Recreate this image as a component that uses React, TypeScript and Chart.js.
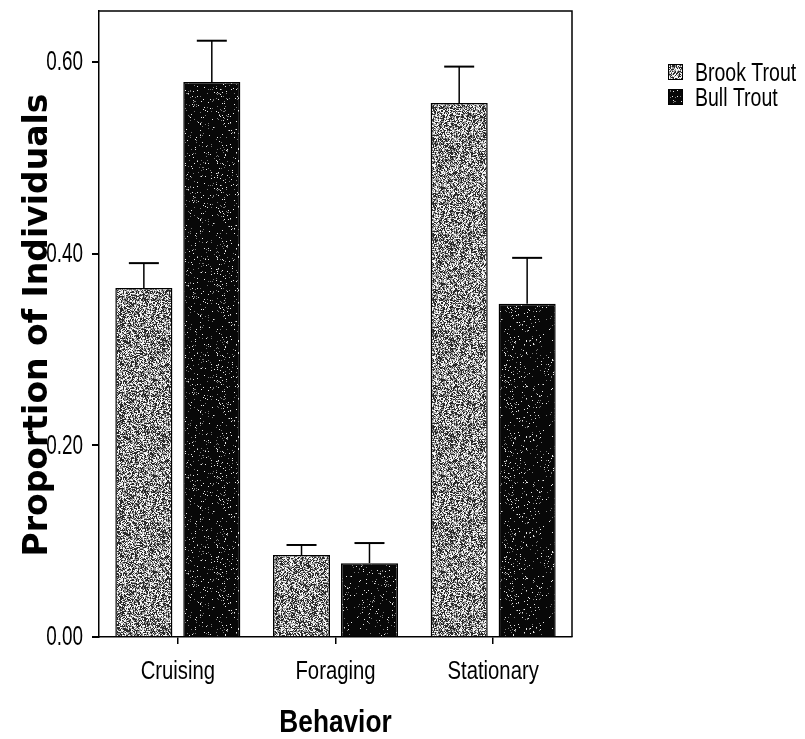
import React, { useEffect, useRef } from "react";
import { Chart, registerables } from "chart.js";

Chart.register(...registerables);

const categories = ["Cruising", "Foraging", "Stationary"];
const seriesNames = ["Brook Trout", "Bull Trout"];
const brookValues = [0.364, 0.0855, 0.557];
const brookUpper = [0.39, 0.096, 0.595];
const bullValues = [0.579, 0.077, 0.3475];
const bullUpper = [0.622, 0.098, 0.3955];
const yTicks = [0, 0.2, 0.4, 0.6];

const SANS = '"Liberation Sans", Arial, sans-serif';
const WIDE = '"DejaVu Sans", Verdana, sans-serif';

function hash(x: number, y: number, s: number) {
  let h = Math.imul(x, 374761393) + Math.imul(y, 668265263) + Math.imul(s, 2147483647);
  h = Math.imul(h ^ (h >>> 13), 1274126177);
  h = h ^ (h >>> 16);
  return (h >>> 0) / 4294967295;
}

function makePattern(kind: "brook" | "bull") {
  const size = 96;
  const c = document.createElement("canvas");
  c.width = size;
  c.height = size;
  const ctx = c.getContext("2d")!;
  const img = ctx.createImageData(size, size);
  for (let y = 0; y < size; y++) {
    for (let x = 0; x < size; x++) {
      const r = hash(x, y, kind === "brook" ? 7 : 11);
      let v: number;
      if (kind === "brook") {
        v = r < 0.38 ? 40 : r < 0.68 ? 150 : 245;
      } else {
        v = r < 0.94 ? 8 : r < 0.97 ? 120 : 235;
      }
      const i = (y * size + x) * 4;
      img.data[i] = v;
      img.data[i + 1] = v;
      img.data[i + 2] = v;
      img.data[i + 3] = 255;
    }
  }
  ctx.putImageData(img, 0, 0);
  return ctx.createPattern(c, "repeat")!;
}

function narrowText(
  ctx: CanvasRenderingContext2D,
  text: string,
  x: number,
  y: number,
  font: string,
  sx: number,
  align: CanvasTextAlign,
  baseline: CanvasTextBaseline
) {
  ctx.save();
  ctx.translate(x, y);
  ctx.scale(sx, 1);
  ctx.font = font;
  ctx.textAlign = align;
  ctx.textBaseline = baseline;
  ctx.fillStyle = "#000";
  ctx.fillText(text, 0, 0);
  ctx.restore();
}

export default function App() {
  const ref = useRef<HTMLCanvasElement | null>(null);
  useEffect(() => {
    document.body.style.margin = "0";
    const canvas = ref.current!;
    const brookPat = makePattern("brook");
    const bullPat = makePattern("bull");
    const uppers = [brookUpper, bullUpper];
    const pats = [brookPat, bullPat];

    const extras = {
      id: "extras",
      afterDatasetsDraw(chart: any) {
        const ctx = chart.ctx;
        const y = chart.scales.y;
        ctx.save();
        ctx.strokeStyle = "#000";
        chart.data.datasets.forEach((ds: any, di: number) => {
          const meta = chart.getDatasetMeta(di);
          meta.data.forEach((bar: any, i: number) => {
            const top = y.getPixelForValue(uppers[di][i]);
            const base = y.getPixelForValue(ds.data[i]);
            ctx.lineWidth = 1.5;
            ctx.beginPath();
            ctx.moveTo(bar.x, base);
            ctx.lineTo(bar.x, top);
            ctx.stroke();
            ctx.lineWidth = 2;
            ctx.beginPath();
            ctx.moveTo(bar.x - 15, top);
            ctx.lineTo(bar.x + 15, top);
            ctx.stroke();
          });
        });
        ctx.restore();
      },
      afterDraw(chart: any) {
        const ctx = chart.ctx;
        const a = chart.chartArea;
        const xs = chart.scales.x;
        const ys = chart.scales.y;
        ctx.save();
        ctx.strokeStyle = "#000";
        ctx.lineWidth = 1.5;
        ctx.beginPath();
        ctx.moveTo(a.left, a.top);
        ctx.lineTo(a.right, a.top);
        ctx.lineTo(a.right, a.bottom);
        ctx.stroke();

        // tick labels
        yTicks.forEach((v) => {
          narrowText(ctx, v.toFixed(2), 83, ys.getPixelForValue(v) + 1, `27px ${SANS}`, 0.7, "right", "middle");
        });
        categories.forEach((c, i) => {
          narrowText(ctx, c, xs.getPixelForValue(i), 679, `26px ${SANS}`, 0.78, "center", "alphabetic");
        });

        // axis titles
        narrowText(ctx, "Behavior", (a.left + a.right) / 2, 732, `bold 32px ${SANS}`, 0.82, "center", "alphabetic");
        ctx.save();
        ctx.translate(38, 325);
        ctx.rotate(-Math.PI / 2);
        ctx.font = `bold 33px ${WIDE}`;
        ctx.textAlign = "center";
        ctx.textBaseline = "middle";
        ctx.fillStyle = "#000";
        ctx.fillText("Proportion of Individuals", 0, 0);
        ctx.restore();

        // legend
        seriesNames.forEach((name, i) => {
          const cy = 72 + i * 25;
          ctx.fillStyle = pats[i];
          ctx.fillRect(668, cy - 8, 15, 16);
          ctx.lineWidth = 1;
          ctx.strokeStyle = "#000";
          ctx.strokeRect(668.5, cy - 7.5, 14, 15);
          narrowText(ctx, name, 695, cy + 9, `26px ${SANS}`, 0.75, "left", "alphabetic");
        });
        ctx.restore();
      },
    };

    const chart = new Chart(canvas, {
      type: "bar",
      data: {
        labels: categories,
        datasets: [
          {
            label: seriesNames[0],
            data: brookValues,
            backgroundColor: brookPat as any,
            borderColor: "#000",
            borderWidth: 1.5,
          },
          {
            label: seriesNames[1],
            data: bullValues,
            backgroundColor: bullPat as any,
            borderColor: "#000",
            borderWidth: 1.5,
          },
        ],
      },
      options: {
        animation: false,
        responsive: false,
        maintainAspectRatio: false,
        layout: { padding: { left: 0, right: 233, top: 11, bottom: 0 } },
        datasets: { bar: { categoryPercentage: 0.862, barPercentage: 0.84 } },
        plugins: { legend: { display: false }, tooltip: { enabled: false } },
        scales: {
          x: {
            grid: {
              display: true,
              drawOnChartArea: false,
              drawTicks: true,
              tickLength: 7,
              offset: false,
              color: "#000",
              lineWidth: 1.5,
            },
            border: { color: "#000", width: 1.5 },
            ticks: { display: false },
            afterFit(s: any) {
              s.height = 102;
              s.paddingLeft = 0;
              s.paddingRight = 0;
            },
          },
          y: {
            min: 0,
            max: 0.653,
            afterBuildTicks(s: any) {
              s.ticks = yTicks.map((v) => ({ value: v }));
            },
            grid: {
              display: true,
              drawOnChartArea: false,
              drawTicks: true,
              tickLength: 7,
              color: "#000",
              lineWidth: 2,
            },
            border: { color: "#000", width: 1.5 },
            ticks: { display: false },
            afterFit(s: any) {
              s.width = 99;
              s.paddingTop = 0;
              s.paddingBottom = 0;
            },
          },
        },
      },
      plugins: [extras],
    });
    return () => chart.destroy();
  }, []);
  return <canvas ref={ref} width={805} height={739} style={{ display: "block" }} />;
}
